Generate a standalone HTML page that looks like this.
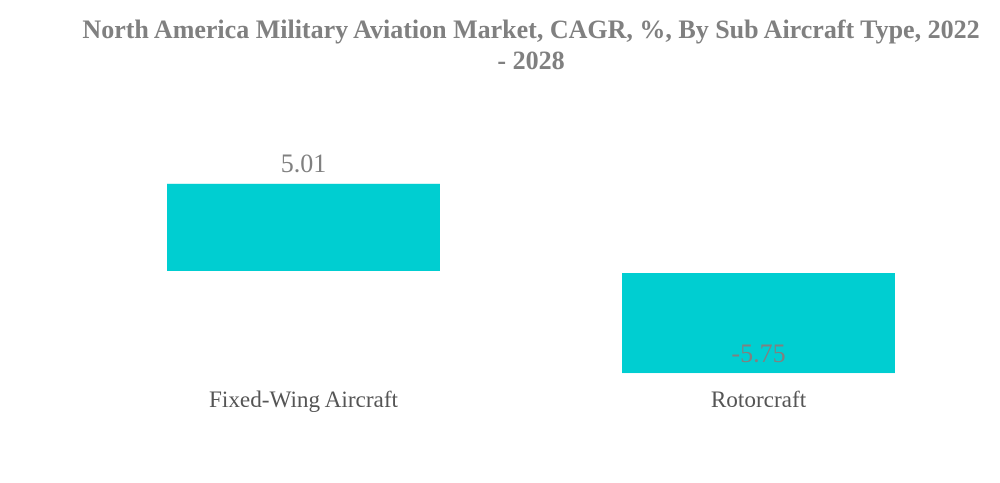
<!DOCTYPE html>
<html><head><meta charset="utf-8"><style>
body{margin:0;width:1000px;height:483px;background:#fff;overflow:hidden}
svg{display:block}
</style></head><body>
<svg id="chart" width="1000" height="483">
<text x="531" y="38" text-anchor="middle" font-family="Liberation Serif, serif" font-weight="bold" font-size="26" fill="#808080">North America Military Aviation Market, CAGR, %, By Sub Aircraft Type, 2022</text>
<text x="531" y="69" text-anchor="middle" font-family="Liberation Serif, serif" font-weight="bold" font-size="26" fill="#808080">- 2028</text>
</svg>
<script>
const categories = ["Fixed-Wing Aircraft", "Rotorcraft"];
const values = [5.01, -5.75];
const labels = ["5.01", "-5.75"];
const svg = document.getElementById('chart');
const NS = 'http://www.w3.org/2000/svg';
const zeroY = 272, scale = 17.4;
const y = v => zeroY - v * scale;
const x0 = 167, step = 455, bw = 273;
categories.forEach((c, i) => {
  const v = values[i];
  const r = document.createElementNS(NS, 'rect');
  
  
  const top = Math.min(y(v), zeroY), h = Math.abs(y(v) - zeroY);
  r.setAttribute('x', x0 + i * step); r.setAttribute('y', v >= 0 ? top - 1 : zeroY + 1);
  r.setAttribute('width', bw); r.setAttribute('height', h);
  r.setAttribute('fill', '#00CED1');
  svg.appendChild(r);
  const t = document.createElementNS(NS, 'text');
  
  
  t.setAttribute('x', x0 + i * step + bw / 2);
  t.setAttribute('y', v >= 0 ? y(v) - 13 : y(v) - 10);
  t.setAttribute('text-anchor', 'middle');
  t.setAttribute('font-family', 'Liberation Serif, serif');
  t.setAttribute('font-size', '26');
  t.setAttribute('fill', '#808080');
  t.textContent = labels[i];
  svg.appendChild(t);
  const cl = document.createElementNS(NS, 'text');
  
  
  cl.setAttribute('x', x0 + i * step + bw / 2);
  cl.setAttribute('y', 407);
  cl.setAttribute('text-anchor', 'middle');
  cl.setAttribute('font-family', 'Liberation Serif, serif');
  cl.setAttribute('font-size', '23.2');
  cl.setAttribute('fill', '#555');
  cl.textContent = c;
  svg.appendChild(cl);
});
</script>
</body></html>
